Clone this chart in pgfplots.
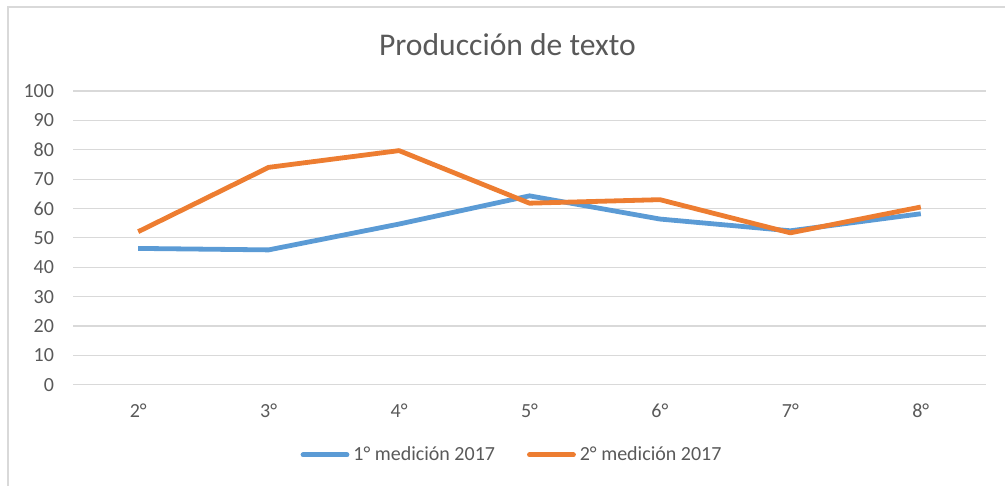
\documentclass[border=0pt]{standalone}
\usepackage{pgfplots}
\pgfplotsset{compat=1.18}
\usepackage{fontspec}
\setmainfont{Carlito}
\definecolor{sblue}{HTML}{5B9BD5}
\definecolor{sorange}{HTML}{ED7D31}
\definecolor{txt}{HTML}{595959}
\definecolor{grd}{HTML}{D9D9D9}
\begin{document}
\begin{tikzpicture}[x=1pt,y=1pt]
\path[use as bounding box] (0,0) rectangle (502.5,243);
\draw[grd,line width=0.6pt] (4,-5) -- (4,239.5) -- (510,239.5);
\node[txt,font=\fontsize{15.8}{18}\selectfont] at (253.75,220.5) {Producción de texto};
\begin{axis}[
  at={(36.5pt,50.65pt)}, anchor=south west,
  scale only axis, width=456.5pt, height=146.85pt,
  xmin=1.5, xmax=8.5, ymin=0, ymax=100,
  xtick={2,3,4,5,6,7,8},
  xticklabels={2°,3°,4°,5°,6°,7°,8°},
  ytick={0,10,...,100},
  ymajorgrids, grid style={grd,line width=0.6pt},
  axis line style={draw=none},
  major tick length=0pt,
  tick label style={txt,font=\fontsize{10}{12}\selectfont},
  /pgf/number format/assume math mode=true,
  yticklabel style={xshift=-6pt},
  xticklabel style={yshift=-6pt},
  legend style={at={(0.482,-0.239)}, anchor=center, draw=none, fill=none,
    font=\fontsize{10}{12}\selectfont, text=txt, legend columns=2,
    /tikz/every even column/.append style={column sep=14pt}},
  legend image code/.code={\draw[#1,line width=2.4pt,line cap=round] (0pt,0pt) -- (22pt,0pt);},
]
\addplot[sblue, line width=2.4pt, line join=round] coordinates {
 (2,46.4) (3,45.9) (4,54.7) (5,64.3) (6,56.4) (7,52.4) (8,58.2)};
\addlegendentry{1° medición 2017}
\addplot[sorange, line width=2.4pt, line join=round] coordinates {
 (2,52.1) (3,74.0) (4,79.7) (5,61.8) (6,63.0) (7,51.7) (8,60.5)};
\addlegendentry{2° medición 2017}
\end{axis}
\end{tikzpicture}
\end{document}
